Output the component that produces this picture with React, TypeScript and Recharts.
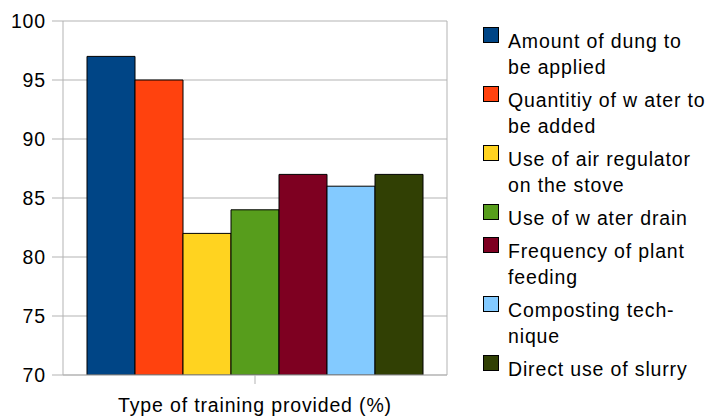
import React from 'react'
import { BarChart, Bar, XAxis, YAxis, CartesianGrid } from 'recharts'

const categories = ['Type of training provided (%)']
const seriesNames = [
  'Amount of dung to be applied',
  'Quantitiy of w ater to be added',
  'Use of air regulator on the stove',
  'Use of w ater drain',
  'Frequency of plant feeding',
  'Composting technique',
  'Direct use of slurry',
]
const legendLines = [
  ['Amount of dung to', 'be applied'],
  ['Quantitiy of w ater to', 'be added'],
  ['Use of air regulator', 'on the stove'],
  ['Use of w ater drain'],
  ['Frequency of plant', 'feeding'],
  ['Composting tech-', 'nique'],
  ['Direct use of slurry'],
]
const seriesValues = [97, 95, 82, 84, 87, 86, 87]
const yTicks = [70, 75, 80, 85, 90, 95, 100]
const colors = ['#004586', '#ff420e', '#ffd320', '#579d1c', '#7e0021', '#83caff', '#314004']

const data = categories.map(name => {
  const row: Record<string, string | number> = { name }
  seriesValues.forEach((v, i) => (row[`s${i}`] = v))
  return row
})

const FONT = '"Liberation Sans", Arial, sans-serif'
const FS = 19.5
const LS = 0.85
const GRID = '#b3b3b3'

function LegendBox() {
  let y = 48
  const items = legendLines.map((lines, i) => {
    const base = y
    y += lines.length * 26 + 7
    return (
      <g key={seriesNames[i]}>
        <rect x={483.5} y={base - 20.5} width={15} height={15} fill={colors[i]} stroke="#000" strokeWidth={1} />
        {lines.map((l, j) => (
          <text key={j} x={508} y={base + j * 26} fontSize={FS} letterSpacing={LS} fontFamily={FONT} fill="#000">
            {l}
          </text>
        ))}
      </g>
    )
  })
  return (
    <svg width={707} height={417} style={{ position: 'absolute', left: 0, top: 0, pointerEvents: 'none' }}>
      {items}
    </svg>
  )
}

export default function App() {
  return (
    <div style={{ position: 'fixed', left: 0, top: 0, width: 707, height: 417, background: '#fff' }}>
      <BarChart
        width={707}
        height={417}
        data={data}
        margin={{ top: 21, right: 260, left: 0, bottom: 0 }}
        barCategoryGap="6.25%"
        barGap={0}
      >
        <CartesianGrid
          stroke={GRID}
          vertical={true}
          verticalCoordinatesGenerator={({ offset }: any) => [offset.left + offset.width]}
        />
        <XAxis
          dataKey="name"
          height={42}
          tickFormatter={() => ''}
          tickSize={9}
          stroke={GRID}
          axisLine={{ stroke: GRID }}
          tickLine={{ stroke: GRID }}
          label={{
            value: categories[0],
            position: 'insideBottom',
            offset: 5,
            fill: '#000',
            fontSize: FS,
            letterSpacing: LS,
            fontFamily: FONT,
          }}
        />
        <YAxis
          width={63}
          domain={[70, 100]}
          ticks={yTicks}
          interval={0}
          allowDataOverflow
          tickSize={11}
          tickMargin={6}
          axisLine={{ stroke: GRID }}
          tickLine={{ stroke: GRID }}
          tick={{ fill: '#000', fontSize: FS, letterSpacing: LS, fontFamily: FONT }}
        />
        {seriesNames.map((n, i) => (
          <Bar
            key={n}
            dataKey={`s${i}`}
            name={n}
            fill={colors[i]}
            stroke="#000"
            strokeWidth={1}
            isAnimationActive={false}
          />
        ))}
      </BarChart>
      <LegendBox />
    </div>
  )
}
